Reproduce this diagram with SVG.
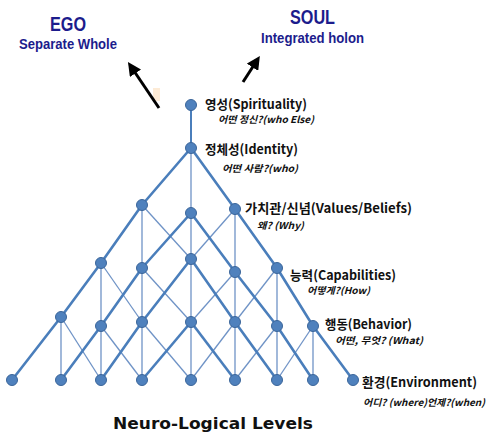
<svg xmlns="http://www.w3.org/2000/svg" width="486" height="433" viewBox="0 0 486 433">
<style>
.thick{fill:none;stroke:#4A7EBB;stroke-width:2.6;stroke-linejoin:round}
.thin{fill:none;stroke:#6F93C6;stroke-width:1.3}
.node{fill:#4F81BD;stroke:#3A659A;stroke-width:1}
.hd{font-family:"Liberation Sans",Arial,sans-serif;font-weight:bold;fill:#1C1C8C}
.lbl{font-family:"Noto Sans CJK KR","Malgun Gothic",sans-serif;font-weight:bold;font-size:13px;fill:#111}
.sub{font-family:"Noto Sans CJK KR","Malgun Gothic",sans-serif;font-weight:bold;font-style:italic;font-size:9.5px;fill:#111}
.title{font-family:"DejaVu Sans",Verdana,sans-serif;font-weight:bold;font-size:15px;fill:#111}
.arr{stroke:#000;stroke-width:3;fill:none}
</style>
<defs>
<marker id="ah" viewBox="0 0 10 10" refX="2" refY="5" markerWidth="4.5" markerHeight="4.5" orient="auto" markerUnits="strokeWidth">
<path d="M0,0 L10,5 L0,10 z" fill="#000"/>
</marker>
</defs>
<rect width="486" height="433" fill="#fff"/>
<g id="header-ego">
<text class="hd" x="50" y="31" font-size="20" textLength="36" lengthAdjust="spacingAndGlyphs">EGO</text>
<text class="hd" x="19" y="49" font-size="14" textLength="98" lengthAdjust="spacingAndGlyphs">Separate Whole</text>
</g>
<g id="header-soul">
<text class="hd" x="290" y="24" font-size="20" textLength="45" lengthAdjust="spacingAndGlyphs">SOUL</text>
<text class="hd" x="261" y="43" font-size="14" textLength="103" lengthAdjust="spacingAndGlyphs">Integrated holon</text>
</g>
<rect x="153" y="88" width="7" height="13" fill="#FCE6CC" opacity="0.8"/>
<g id="connectors">
<line class="arr" x1="159" y1="108" x2="134" y2="71" marker-end="url(#ah)"/>
<line class="arr" x1="243" y1="82" x2="254" y2="65" marker-end="url(#ah)"/>
<line x1="191" y1="105" x2="191" y2="148" stroke="#4A7EBB" stroke-width="2"/>
<line class="thin" x1="191" y1="148" x2="191" y2="380"/>
<line class="thin" x1="142" y1="205" x2="142" y2="380"/>
<line class="thin" x1="235" y1="209" x2="235" y2="380"/>
<line class="thin" x1="101" y1="263" x2="101" y2="380"/>
<line class="thin" x1="277" y1="268" x2="277" y2="380"/>
<line class="thin" x1="61" y1="317" x2="61" y2="380"/>
<line class="thin" x1="313" y1="326" x2="313" y2="380"/>
<line class="thin" x1="142" y1="205" x2="191" y2="259"/>
<line class="thin" x1="235" y1="209" x2="191" y2="259"/>
<line class="thin" x1="101" y1="263" x2="142" y2="322"/>
<line class="thin" x1="142" y1="268" x2="191" y2="322"/>
<line class="thin" x1="235" y1="272" x2="191" y2="322"/>
<line class="thin" x1="277" y1="268" x2="235" y2="322"/>
<line class="thin" x1="61" y1="317" x2="101" y2="380"/>
<line class="thin" x1="101" y1="326" x2="142" y2="380"/>
<line class="thin" x1="142" y1="322" x2="191" y2="380"/>
<line class="thin" x1="235" y1="322" x2="191" y2="380"/>
<line class="thin" x1="277" y1="326" x2="235" y2="380"/>
<line class="thin" x1="313" y1="326" x2="277" y2="380"/>
<polyline class="thick" points="191,148 142,205 101,263 61,317 12,380"/>
<polyline class="thick" points="191,213 142,268 101,326 61,380"/>
<polyline class="thick" points="191,259 142,322 101,380"/>
<polyline class="thick" points="191,322 142,380"/>
<polyline class="thick" points="191,148 235,209 277,268 313,326 353,380"/>
<polyline class="thick" points="191,213 235,272 277,326 313,380"/>
<polyline class="thick" points="191,259 235,322 277,380"/>
<polyline class="thick" points="191,322 235,380"/>
</g>
<g id="n-spirituality">
<circle class="node" cx="191" cy="105" r="5.5"/>
<text class="lbl" x="205" y="109" textLength="102" lengthAdjust="spacingAndGlyphs">영성(Spirituality)</text>
<text class="sub" x="218" y="123" textLength="96" lengthAdjust="spacingAndGlyphs">어떤 정신?(who Else)</text>
</g>
<g id="n-identity">
<circle class="node" cx="191" cy="148" r="5.5"/>
<text class="lbl" x="205" y="154" textLength="93" lengthAdjust="spacingAndGlyphs">정체성(Identity)</text>
<text class="sub" x="222" y="172" textLength="76" lengthAdjust="spacingAndGlyphs">어떤 사람?(who)</text>
</g>
<g id="n-values">
<circle class="node" cx="235" cy="209" r="5.5"/>
<text class="lbl" x="245" y="213" textLength="167" lengthAdjust="spacingAndGlyphs">가치관/신념(Values/Beliefs)</text>
<text class="sub" x="257" y="229" textLength="47" lengthAdjust="spacingAndGlyphs">왜? (Why)</text>
</g>
<g id="n-capabilities">
<circle class="node" cx="277" cy="268" r="5.5"/>
<text class="lbl" x="290" y="280" textLength="106" lengthAdjust="spacingAndGlyphs">능력(Capabilities)</text>
<text class="sub" x="307" y="294" textLength="63" lengthAdjust="spacingAndGlyphs">어떻게?(How)</text>
</g>
<g id="n-behavior">
<circle class="node" cx="313" cy="326" r="5.5"/>
<text class="lbl" x="325" y="329" textLength="87" lengthAdjust="spacingAndGlyphs">행동(Behavior)</text>
<text class="sub" x="335" y="344" textLength="88" lengthAdjust="spacingAndGlyphs">어떤, 무엇? (What)</text>
</g>
<g id="n-environment">
<circle class="node" cx="353" cy="380" r="5.5"/>
<text class="lbl" x="362" y="387" textLength="115" lengthAdjust="spacingAndGlyphs">환경(Environment)</text>
<text class="sub" x="363" y="406" textLength="122" lengthAdjust="spacingAndGlyphs">어디? (where)언제?(when)</text>
</g>
<g id="lattice-nodes">
<circle class="node" cx="142" cy="205" r="5.5"/>
<circle class="node" cx="191" cy="213" r="5.5"/>
<circle class="node" cx="101" cy="263" r="5.5"/>
<circle class="node" cx="142" cy="268" r="5.5"/>
<circle class="node" cx="191" cy="259" r="5.5"/>
<circle class="node" cx="235" cy="272" r="5.5"/>
<circle class="node" cx="61" cy="317" r="5.5"/>
<circle class="node" cx="101" cy="326" r="5.5"/>
<circle class="node" cx="142" cy="322" r="5.5"/>
<circle class="node" cx="191" cy="322" r="5.5"/>
<circle class="node" cx="235" cy="322" r="5.5"/>
<circle class="node" cx="277" cy="326" r="5.5"/>
<circle class="node" cx="12" cy="380" r="5.5"/>
<circle class="node" cx="61" cy="380" r="5.5"/>
<circle class="node" cx="101" cy="380" r="5.5"/>
<circle class="node" cx="142" cy="380" r="5.5"/>
<circle class="node" cx="191" cy="380" r="5.5"/>
<circle class="node" cx="235" cy="380" r="5.5"/>
<circle class="node" cx="277" cy="380" r="5.5"/>
<circle class="node" cx="313" cy="380" r="5.5"/>
</g>
<text class="title" x="113" y="429" textLength="200" lengthAdjust="spacingAndGlyphs">Neuro-Logical Levels</text>
</svg>
